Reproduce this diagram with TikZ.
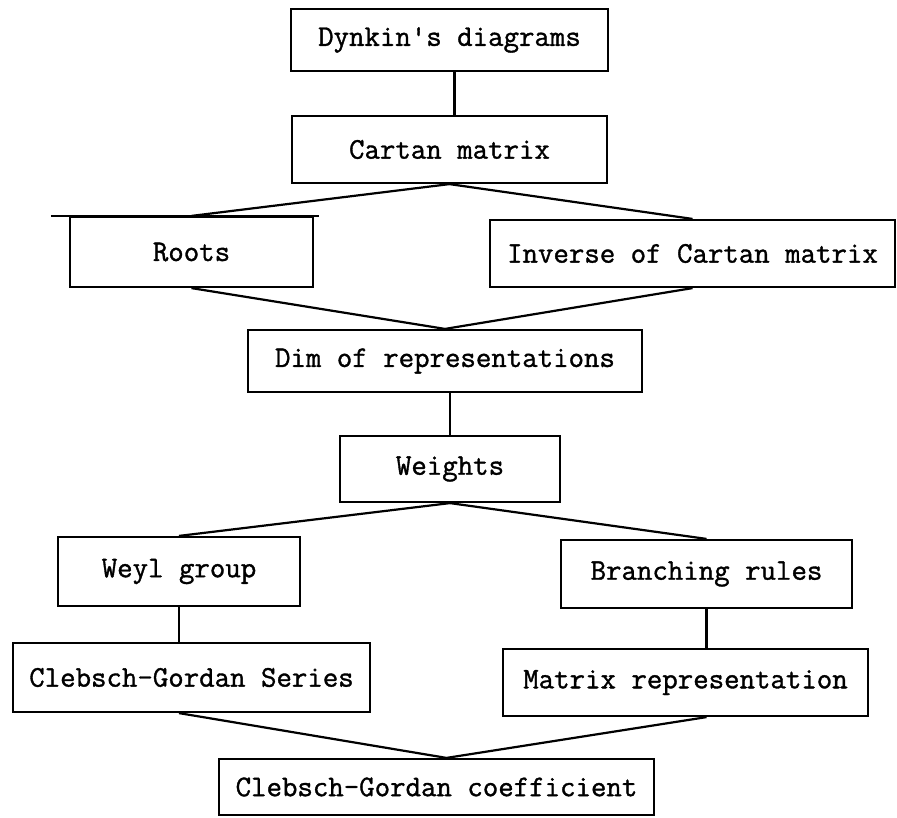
\documentclass[tikz,border=0pt]{standalone}
\usepackage{fontspec}
\setmonofont[FakeBold=1.2]{Latin Modern Mono}
\usetikzlibrary{calc}
\begin{document}
\begin{tikzpicture}[x=1pt,y=-1pt,
  box/.style={draw, line width=2.2pt, rectangle, inner sep=0pt,
    font=\fontsize{30}{30}\selectfont\ttfamily},
  conn/.style={line width=2.2pt, line join=round}]
\useasboundingbox (0,0) rectangle (897,817);
\fill[white] (0,0) rectangle (897,817);
\node[box, minimum width=317pt, minimum height=62pt] (dynkin) at (449.5,40) {Dynkin's diagrams};
\node[box, minimum width=315pt, minimum height=67pt] (cartan) at (449.5,149.5) {Cartan matrix};
\node[box, minimum width=243pt, minimum height=70pt] (roots) at (191.5,252) {Roots};
\node[box, minimum width=405pt, minimum height=67pt] (inverse) at (692.5,253.5) {Inverse of Cartan matrix};
\node[box, minimum width=394pt, minimum height=62pt] (dim) at (445,361) {Dim of representations};
\node[box, minimum width=220pt, minimum height=66pt] (weights) at (450,469) {Weights};
\node[box, minimum width=242pt, minimum height=69pt] (weyl) at (179,571.5) {Weyl group};
\node[box, minimum width=291pt, minimum height=68pt] (branch) at (706.5,574) {Branching rules};
\node[box, minimum width=357pt, minimum height=69pt] (cgs) at (191.5,677.5) {Clebsch-Gordan Series};
\node[box, minimum width=365pt, minimum height=67pt] (matrix) at (685.5,682.5) {Matrix representation};
\node[box, minimum width=435pt, minimum height=56pt] (cgc) at (436.5,787) {Clebsch-Gordan coefficient};

% extended top edge of the Roots box
\draw[conn] ([xshift=-18pt]roots.north west) -- ([xshift=5pt]roots.north east);

\coordinate (cgctop) at ($(cgc.north)+(10,0)$);
\coordinate (dyn) at ($(dynkin.south)+(5,0)$);

\draw[conn] (dyn) -- (dyn |- cartan.north);
\draw[conn] (roots.north) -- (cartan.south) -- (inverse.north);
\draw[conn] (roots.south) -- (dim.north) -- (inverse.south);
\draw[conn] (weights.north |- dim.south) -- (weights.north);
\draw[conn] (weyl.north) -- (weights.south) -- (branch.north);
\draw[conn] (weyl.south) -- (weyl.south |- cgs.north);
\draw[conn] (branch.south) -- (branch.south |- matrix.north);
\draw[conn] (cgs.south -| weyl.south) -- (cgctop) -- (matrix.south -| branch.south);
\end{tikzpicture}
\end{document}
